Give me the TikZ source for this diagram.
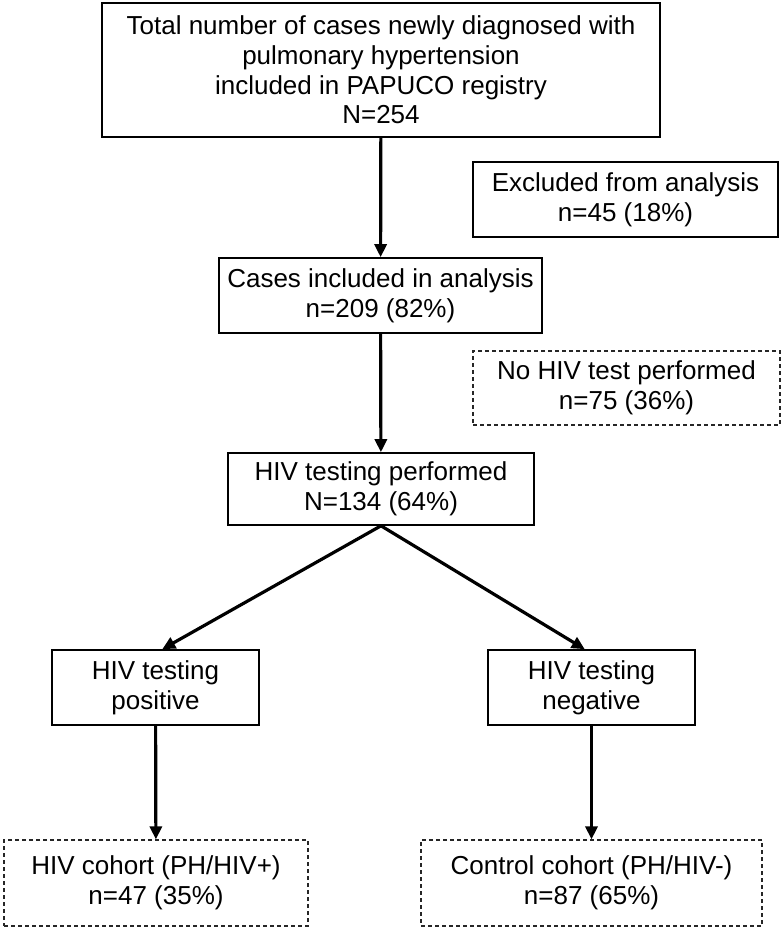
\documentclass[tikz,border=0pt]{standalone}
\usepackage{fontspec}
\setmainfont{Liberation Sans}
\usetikzlibrary{arrows.meta}
\tikzset{%
box/.style={draw,line width=0.8pt,inner sep=0pt,align=center,font=\fontsize{13}{14.8}\selectfont},
dbox/.style={box,line width=0.6pt,dash pattern=on 2pt off 1.5pt,draw=black!85},
arr/.style={line width=1.6pt,-{Triangle[width=6pt,length=6.5pt]}}
}

\begin{document}
\begin{tikzpicture}[x=0.5pt,y=-0.5pt]
\useasboundingbox (0,0) rectangle (780,929);
\node[box,minimum width=279pt,minimum height=67pt] (Total) at (381,70)
     {Total number of cases newly diagnosed with\\pulmonary hypertension\\included in PAPUCO registry\\N=254};
\node[box,minimum width=152.5pt,minimum height=37.5pt] (Excl) at (625.5,199.5)
     {Excluded from analysis\\n=45 (18\%)};
%%
\node[box,minimum width=161.5pt,minimum height=37.5pt] (Incl) at (380.5,295.5)
     {Cases included in analysis\\n=209 (82\%)};
\node[dbox,minimum width=153.5pt,minimum height=37pt] (NoTest) at (626.5,388)
     {No HIV test performed\\n=75 (36\%)};
%%
\node[box,minimum width=153pt,minimum height=36pt] (Tested) at (381,489)
     {HIV testing performed\\N=134 (64\%)};
%%
\foreach \res/\name/\i in {positive/Pos/155.5,negative/Neg/591.5}
     \node[box,minimum width=103.5pt,minimum height=37.5pt] (\name) at (\i,687.5) {HIV testing\\\res};
\node[dbox,minimum width=152pt,minimum height=43pt] (HIVco) at (156,883)
     {HIV cohort (PH/HIV+)\\n=47 (35\%)};
\node[dbox,minimum width=170.5pt,minimum height=43pt] (Ctrl) at (591.5,883)
     {Control cohort (PH/HIV-)\\n=87 (65\%)};
%%%%%%%%%%%%%%
\draw[arr] (Total)  -- (Incl);
\draw[arr] (Incl)   -- (Tested);
%%
\draw[arr] (Tested.south) -- (Pos.80);
\draw[arr] (Tested.south) -- (Neg.100);
%%
\draw[arr] (Pos) -- (HIVco);
\draw[arr] (Neg) -- (Ctrl);
\end{tikzpicture}
\end{document}
